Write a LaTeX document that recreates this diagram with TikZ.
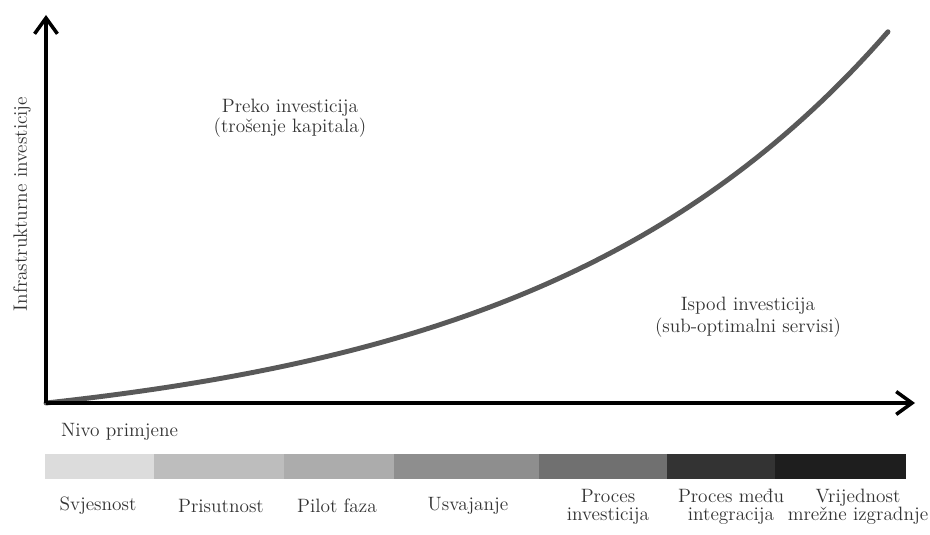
\documentclass[tikz,border=0pt]{standalone}
\usepackage{fontspec}
\usetikzlibrary{arrows.meta}

\definecolor{curvegray}{gray}{0.35}
\definecolor{textgray}{gray}{0.2}
\definecolor{svjesnostcol}{HTML}{DCDCDC}
\definecolor{prisutnostcol}{HTML}{BDBDBD}
\definecolor{pilotcol}{HTML}{ACACAC}
\definecolor{usvajanjecol}{HTML}{8E8E8E}
\definecolor{investcol}{HTML}{707070}
\definecolor{integrcol}{HTML}{333333}
\definecolor{vrijednostcol}{HTML}{1E1E1E}

\begin{document}
\begin{tikzpicture}[
  axis/.style = {line width = 2pt, -{Straight Barb[length=9pt, width=13pt]}},
  curve/.style = {line width = 2.8pt, curvegray, line cap = round},
  txt/.style = {text = textgray, font = \fontsize{11}{10.5}\selectfont, align = center}
]
\useasboundingbox (0,0) rectangle (18.6,10.68);

\coordinate (O) at (0.92,2.62); % origin
\coordinate (ytip) at (0.92,10.38); % end of investment axis
\coordinate (xtip) at (18.3,2.62); % end of adoption axis

\draw[curve] plot[domain = 0.92:17.76, samples = 90] (\x, {2.62 + 0.782*(exp(0.1396*(\x - 0.92)) - 1)}); % investment curve

\draw[axis] (O) -- (ytip); % investment axis
\draw[axis] (O) -- (xtip); % adoption axis

\node[txt, rotate = 90] (ylabel) at (0.44,6.6) {Infrastrukturne investicije}; % y label
\node[txt, font = \fontsize{11}{9.5}\selectfont] (preko) at (5.8,8.32) {Preko investicija\\(trošenje kapitala)}; % above the curve
\node[txt, font = \fontsize{11}{12.5}\selectfont] (ispod) at (14.96,4.34) {Ispod investicija\\(sub-optimalni servisi)}; % below the curve
\node[txt, anchor = west] (nivo) at (1.1,2.04) {Nivo primjene}; % x label

\fill[svjesnostcol] (0.9,1.1) rectangle (3.08,1.6); % stage 1
\fill[prisutnostcol] (3.08,1.1) rectangle (5.68,1.6); % stage 2
\fill[pilotcol] (5.68,1.1) rectangle (7.88,1.6); % stage 3
\fill[usvajanjecol] (7.88,1.1) rectangle (10.78,1.6); % stage 4
\fill[investcol] (10.78,1.1) rectangle (13.34,1.6); % stage 5
\fill[integrcol] (13.34,1.1) rectangle (15.5,1.6); % stage 6
\fill[vrijednostcol] (15.5,1.1) rectangle (18.12,1.6); % stage 7

\node[txt] (svjesnost) at (1.96,0.56) {Svjesnost};
\node[txt] (prisutnost) at (4.42,0.56) {Prisutnost};
\node[txt] (pilot) at (6.74,0.56) {Pilot faza};
\node[txt] (usvajanje) at (9.36,0.56) {Usvajanje};
\node[txt] (proces) at (12.16,0.54) {Proces\\investicija};
\node[txt] (integracija) at (14.62,0.54) {Proces među\\integracija};
\node[txt] (vrijednost) at (17.16,0.54) {Vrijednost\\mrežne izgradnje};

\end{tikzpicture}
\end{document}
